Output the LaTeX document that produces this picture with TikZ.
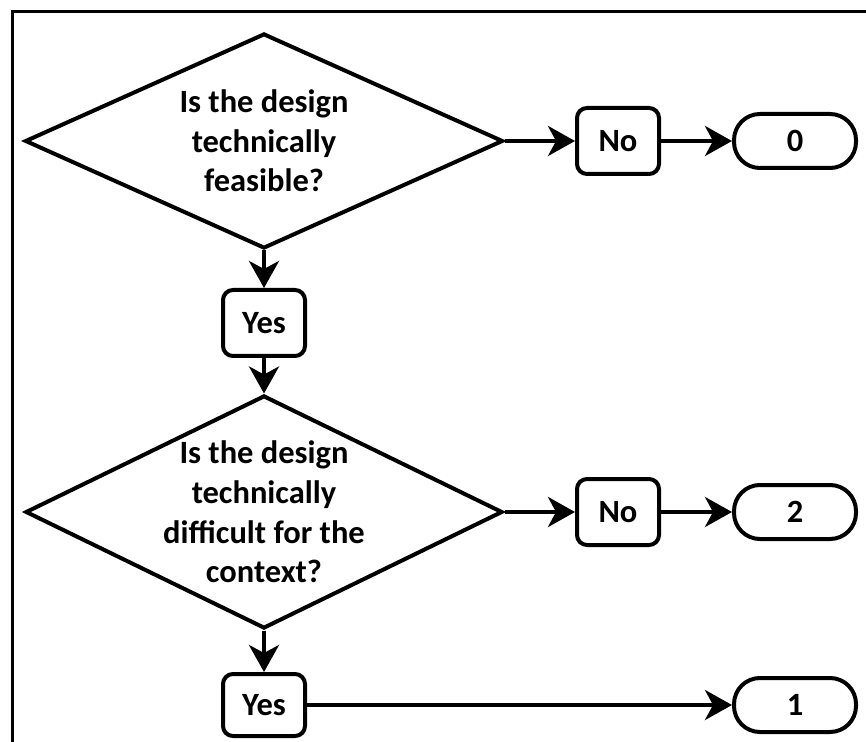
\documentclass[tikz,border=0pt]{standalone}
\usepackage{fontspec}
\setmainfont{Carlito}
\usetikzlibrary{shapes.geometric,arrows.meta,positioning}

\newcommand\flowfont{\fontsize{16.25pt}{19.8pt}\selectfont\bfseries}

\tikzset{
  decision/.style={diamond, draw, line width=2pt, inner sep=0pt},
  qtext/.style={font=\flowfont, align=center},
  answer/.style={draw, rounded corners=5pt, line width=2pt, inner sep=0pt,
    minimum width=41pt, minimum height=33pt, font=\flowfont},
  score/.style={draw, rounded corners=13pt, line width=2pt, inner sep=0pt,
    minimum width=61pt, minimum height=27pt, font=\flowfont},
  flow/.style={line width=2pt, -{Stealth[length=13.5pt,width=15pt,inset=4pt]}},
}

\begin{document}
\begin{tikzpicture}[x=0.5pt,y=-0.5pt]
  \useasboundingbox (0,0) rectangle (866,742);

  %% frame round the chart
  \draw [line width=1.5pt] (12,742) -- (12,12) -- (866,12);

  %% first question
  \node [decision, minimum width=239pt, minimum height=107.5pt,
    label={[qtext]center:Is the design\\technically\\feasible?}] (feasible) at (264,141) {};
  \node [answer] (no1) at (618,141) {No};
  \node [score] (zero) at (795,141) {0};
  \node [answer] (yes1) at (264,323) {Yes};

  %% second question
  \node [decision, minimum width=238.5pt, minimum height=116.5pt,
    label={[qtext]center:Is the design\\technically\\difficult for the\\context?}] (difficult) at (264,512) {};
  \node [answer] (no2) at (618,512) {No};
  \node [score] (two) at (795,512) {2};
  \node [answer, minimum height=31pt] (yes2) at (264,705) {Yes};
  \node [score] (one) at (795,705) {1};

  \draw [flow] (feasible.east) -- (no1);
  \draw [flow] (no1) -- (zero);
  \draw [flow] (feasible.south) -- (yes1);
  \draw [flow] (yes1) -- (difficult.north);
  \draw [flow] (difficult.east) -- (no2);
  \draw [flow] (no2) -- (two);
  \draw [flow] (difficult.south) -- (yes2);
  \draw [flow] (yes2) -- (one);
\end{tikzpicture}
\end{document}
